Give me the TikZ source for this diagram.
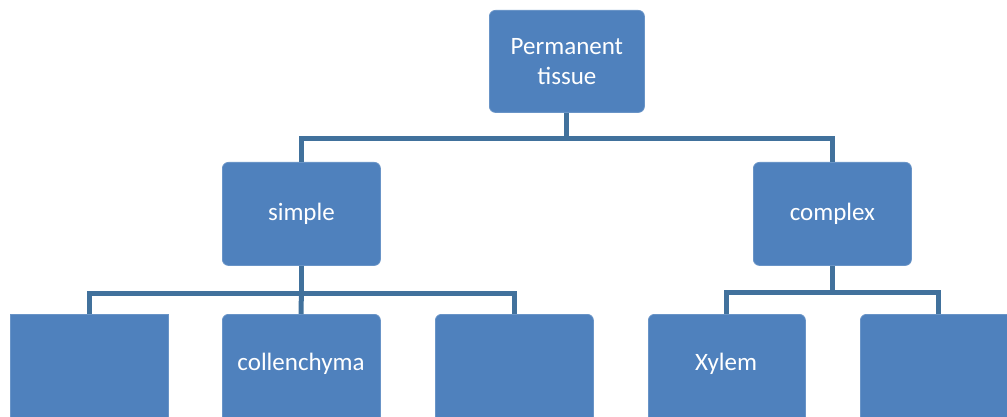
\documentclass[tikz,border=0pt]{standalone}
\usepackage{fontspec}
\setmainfont{Carlito}
\definecolor{boxblue}{HTML}{4F81BD}
\definecolor{lineblue}{HTML}{41719C}
\begin{document}
\begin{tikzpicture}[x=1pt,y=-1pt,
  box/.style={fill=boxblue, draw=boxblue!85!white, line width=0.8pt, rounded corners=6pt, anchor=north west},
  lbl/.style={text=white, font=\fontsize{25}{30}\selectfont, align=center},
  conn/.style={draw=lineblue, line width=5pt}]
\useasboundingbox (0,0) rectangle (1007,417);
\clip (0,0) rectangle (1007,417);
\node[box, minimum width=155pt, minimum height=102pt] (root) at (489,10) {};
\node[lbl] (roott) at (root.center) {Permanent\\tissue};
\node[box, minimum width=158pt, minimum height=103pt] (simple) at (222,162) {};
\node[lbl] (simplet) at (simple.center) {simple};
\node[box, minimum width=158pt, minimum height=103pt] (complex) at (753,162) {};
\node[lbl] (complext) at (complex.center) {complex};
\node[box, rounded corners=0pt, minimum width=158pt, minimum height=120pt] (b1) at (10,314) {};
\node[box, minimum width=158pt, minimum height=120pt] (b2) at (222,314) {};
\node[lbl] (b2t) at (301,364) {collenchyma};
\node[box, minimum width=158pt, minimum height=120pt] (b3) at (435,314) {};
\node[box, minimum width=157pt, minimum height=120pt] (b4) at (648,314) {};
\node[lbl] (b4t) at (726,364) {Xylem};
\node[box, minimum width=158pt, minimum height=120pt] (b5) at (860,314) {};
\coordinate (j1) at (root.south |- 0,139);
\coordinate (j2) at (simple.south |- 0,293);
\coordinate (j3) at (complex.south |- 0,292);
\draw[conn] (root.south) -- (j1) -| (simple.north);
\draw[conn] (j1) -| (complex.north);
\draw[conn] (simple.south) -- (j2) -| ([xshift=79pt]b1.north west);
\draw[conn] (j2) -| ([xshift=79pt]b3.north west);
\draw[conn] (j2) -- ([xshift=79pt]b2.north west);
\draw[conn] (complex.south) -- (j3) -| ([xshift=78pt]b4.north west);
\draw[conn] (j3) -| ([xshift=78pt]b5.north west);
\end{tikzpicture}
\end{document}
